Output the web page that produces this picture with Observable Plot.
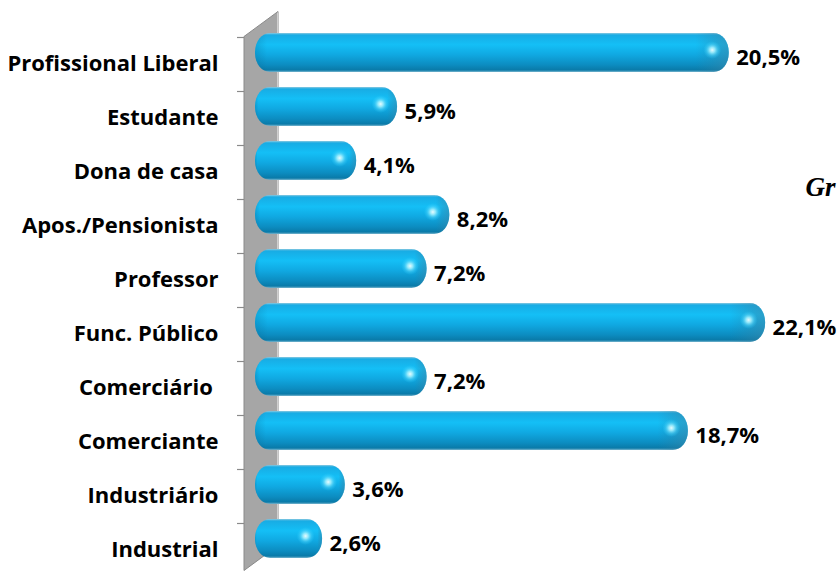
<!DOCTYPE html>
<html>
<head>
<meta charset="utf-8">
<script src="https://cdn.jsdelivr.net/npm/d3@7"></script>
<script src="https://cdn.jsdelivr.net/npm/@observablehq/plot@0.6"></script>
<style>
  html, body { margin: 0; padding: 0; background: #fff; overflow: hidden; }
  #chart svg text { white-space: pre; }
</style>
</head>
<body>
<div id="chart"></div>
<script>
const categories = ["Profissional Liberal", "Estudante", "Dona de casa", "Apos./Pensionista", "Professor", "Func. Público", "Comerciário ", "Comerciante", "Industriário", "Industrial"];
const values = [20.5, 5.9, 4.1, 8.2, 7.2, 22.1, 7.2, 18.7, 3.6, 2.6];
const sideTitle = "Gr";

const data = categories.map((c, i) => ({category: c, value: values[i]}));
const fmt = v => v.toFixed(1).replace(".", ",") + "%";

const BAR_DY = -11;

// 3D side wall + boundary ticks, positioned from the scales
function wallMark(index, scales, values, dimensions) {
  const x0 = scales.x(0);
  const ys = categories.map(c => scales.y(c));
  const step = ys[1] - ys[0];
  const bw = scales.y.bandwidth ? scales.y.bandwidth() : step * 0.72;
  const top = ys[0] - (step - bw) / 2;
  const bottom = top + step * categories.length;
  const left = x0 - 19, right = x0 + 15, back = 25;
  const g = d3.create("svg:g");
  g.append("polygon")
    .attr("points", [[left, top], [right, top - back], [right, bottom - back - 6], [left, bottom - 6]].map(p => p.join(",")).join(" "))
    .attr("fill", "#a6a6a6")
    .attr("stroke", "#8a8a8a")
    .attr("stroke-width", 1);
  g.append("line")
    .attr("x1", right - 0.5).attr("x2", right - 0.5)
    .attr("y1", top - back + 1).attr("y2", bottom - back - 6)
    .attr("stroke", "#d0d0d0").attr("stroke-width", 1);
  for (let k = 0; k <= categories.length - 1; k++) {
    const y = Math.round(top + k * step) + 0.5;
    g.append("line")
      .attr("x1", left - 7).attr("x2", left)
      .attr("y1", y).attr("y2", y)
      .attr("stroke", "#8a8a8a").attr("stroke-width", 1.2);
  }
  return g.node();
}

const chart = Plot.plot({
  width: 839,
  height: 575,
  marginLeft: 263,
  marginRight: 8,
  marginTop: 35,
  marginBottom: 0,
  style: {fontFamily: "'Open Sans', Lato, sans-serif", background: "white", overflow: "hidden"},
  x: {domain: [0, 25], axis: null},
  y: {domain: categories, range: [35, 578], paddingInner: 0.28, paddingOuter: 0.14, axis: null},
  marks: [
    wallMark,
    Plot.axisY({
      label: null,
      tickSize: 0,
      tickPadding: 45,
      fontSize: 22,
      fontWeight: "bold",
      fill: "#000"
    }),
    Plot.barX(data, {
      x: "value",
      y: "category",
      insetLeft: -8,
      rx: 15,
      ry: 19,
      dy: BAR_DY,
      fill: "url(#barGrad)"
    }),
    Plot.barX(data, {
      x: "value",
      y: "category",
      insetLeft: -8,
      rx: 15,
      ry: 19,
      dy: BAR_DY,
      fill: "url(#capGrad)"
    }),
    Plot.dot(data, {
      x: "value",
      y: "category",
      r: 9,
      dx: -17,
      dy: BAR_DY - 3,
      fill: "url(#spotGrad)",
      stroke: null
    }),
    Plot.text(data, {
      x: "value",
      y: "category",
      text: d => fmt(d.value),
      dx: 7,
      dy: -6,
      textAnchor: "start",
      fontSize: 22,
      fontWeight: "bold",
      fill: "#000"
    }),
    Plot.text([sideTitle], {
      frameAnchor: "top-right",
      textAnchor: "start",
      lineAnchor: "bottom",
      dx: -26,
      dy: 160,
      fontSize: 27,
      fontWeight: "bold",
      fontStyle: "italic",
      fontFamily: "'Liberation Serif', 'DejaVu Serif', serif",
      fill: "#000"
    })
  ]
});

// gradient definitions used by the bars
const defs = d3.select(chart).insert("defs", ":first-child");
const lg = defs.append("linearGradient").attr("id", "barGrad").attr("x1", 0).attr("y1", 0).attr("x2", 0).attr("y2", 1);
[["0%", "#8cc9e0"], ["5%", "#18ace4"], ["30%", "#14bff6"], ["55%", "#10a9e2"], ["82%", "#0c8cc0"], ["95%", "#0a7aa8"], ["100%", "#7ab6cf"]]
  .forEach(([o, c]) => lg.append("stop").attr("offset", o).attr("stop-color", c));
const cg = defs.append("linearGradient").attr("id", "capGrad").attr("x1", 0).attr("y1", 0).attr("x2", 1).attr("y2", 0);
[["0%", "#0a5f88", 0.25], ["2.5%", "#0a5f88", 0], ["93%", "#2d7ea0", 0], ["100%", "#3d86a6", 0.55]]
  .forEach(([o, c, a]) => cg.append("stop").attr("offset", o).attr("stop-color", c).attr("stop-opacity", a));
const rg = defs.append("radialGradient").attr("id", "spotGrad");
[["0%", "#f4ffff", 0.95], ["30%", "#a8f2ff", 0.85], ["65%", "#5adcff", 0.4], ["100%", "#30d0ff", 0]]
  .forEach(([o, c, a]) => rg.append("stop").attr("offset", o).attr("stop-color", c).attr("stop-opacity", a));

document.getElementById("chart").appendChild(chart);
</script>
</body>
</html>
